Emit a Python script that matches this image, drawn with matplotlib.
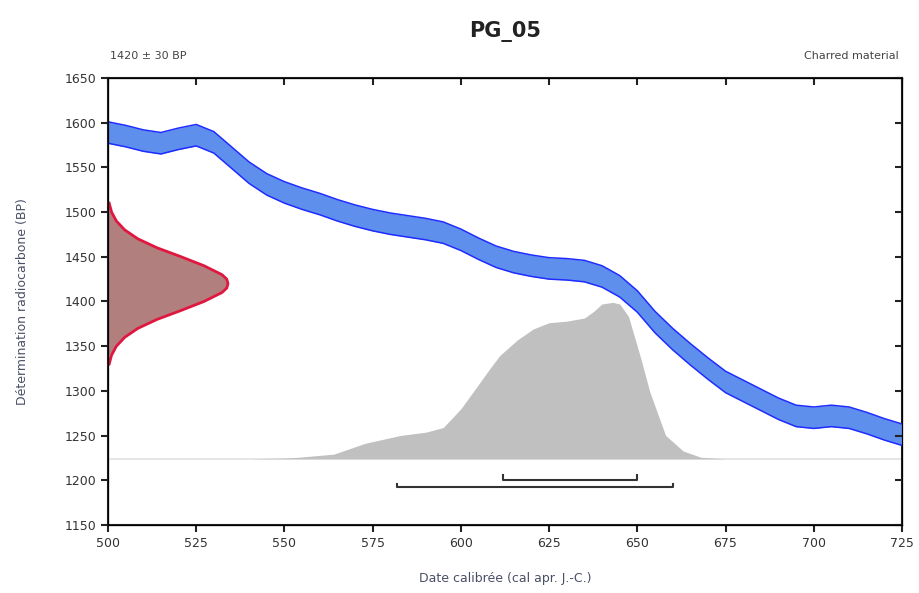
import matplotlib
matplotlib.use('Agg')
import matplotlib.pyplot as plt
import numpy as np

# 校准曲线 (中心值, BP)
curve_years = [500, 505, 510, 515, 520, 525, 530, 535, 540, 545, 550, 555, 560, 565, 570,
               575, 580, 585, 590, 595, 600, 605, 610, 615, 620, 625, 630, 635, 640, 645,
               650, 655, 660, 665, 670, 675, 680, 685, 690, 695, 700, 705, 710, 715, 720, 725]
curve_bp = [1589, 1585, 1580, 1577, 1582, 1586, 1578, 1561, 1544, 1531, 1522, 1515, 1509, 1502, 1496,
            1491, 1487, 1484, 1481, 1477, 1469, 1459, 1450, 1444, 1440, 1437, 1436, 1434, 1428, 1417,
            1400, 1377, 1358, 1341, 1325, 1310, 1300, 1290, 1280, 1272, 1270, 1272, 1270, 1264, 1257, 1251]
curve_err = 12

# 测年结果 1420 ± 30 BP 的分布 (相对高度)
meas_bp = [1330, 1340, 1350, 1360, 1370, 1380, 1390, 1400, 1410, 1415, 1420,
           1425, 1430, 1440, 1450, 1460, 1470, 1480, 1490, 1500, 1510]
meas_dens = [0.01, 0.03, 0.07, 0.14, 0.25, 0.41, 0.61, 0.80, 0.95, 0.99, 1.0,
             0.99, 0.95, 0.80, 0.61, 0.41, 0.25, 0.14, 0.07, 0.03, 0.01]

# 校准后的日期分布 (相对高度)
cal_years = [540, 550, 554, 564, 573, 583, 590, 595, 600, 604.5, 608, 611, 616, 620.5, 625, 630,
             635, 637.5, 640, 643, 645, 647.5, 651, 653.5, 658, 663, 668, 675]
cal_dens = [0.0, 0.005, 0.01, 0.03, 0.10, 0.15, 0.17, 0.20, 0.32, 0.46, 0.57, 0.66, 0.76, 0.83, 0.87, 0.88,
            0.90, 0.94, 0.99, 1.0, 0.99, 0.91, 0.64, 0.43, 0.15, 0.05, 0.01, 0.0]

# 置信区间
range_68 = [612, 650]
range_95 = [582, 660]

cy = np.array(curve_bp)
cal_base = 1224
cal_height = 175
meas_width = 34

fig = plt.figure(figsize=(9.19, 5.93), dpi=100)
ax = fig.add_axes([0.1175, 0.1147, 0.864, 0.7538])

# 校准后分布
ax.axhline(cal_base, color='#e2e2e2', lw=1.2, zorder=1)
ax.fill_between(cal_years, cal_base, cal_base + cal_height * np.array(cal_dens),
                color='#c0c0c0', lw=0, zorder=2)

# 校准曲线带
ax.fill_between(curve_years, cy - curve_err, cy + curve_err, color='#5f8fec', lw=0, zorder=3)
ax.plot(curve_years, cy - curve_err, color='#1f2cff', lw=1.1, zorder=4, solid_joinstyle='round')
ax.plot(curve_years, cy + curve_err, color='#1f2cff', lw=1.1, zorder=4, solid_joinstyle='round')

# 测年结果分布
mx = 500 + meas_width * np.array(meas_dens)
ax.fill_betweenx(meas_bp, 500, mx, color='#b27f7f', lw=0, zorder=5)
ax.plot(mx, meas_bp, color='#e01840', lw=2, zorder=6, clip_on=False, solid_joinstyle='round')

# 区间线
for (a, b), y, h in [(range_68, 1200, 6), (range_95, 1192, 4)]:
    ax.plot([a, a, b, b], [y + h, y, y, y + h], color='#333333', lw=1.5, zorder=6)

ax.set_xlim(500, 725)
ax.set_ylim(1150, 1650)
ax.set_xticks(np.arange(500, 726, 25))
ax.set_yticks(np.arange(1150, 1651, 50))
ax.tick_params(axis='both', labelsize=9, labelcolor='#333333', direction='out',
               length=5, width=1.5, color='#222222')
for spine in ax.spines.values():
    spine.set_linewidth(1.5)
    spine.set_color('#222222')

# 顶部和右侧的刻度朝内
ax2 = ax.twinx()
ax2.set_ylim(1150, 1650)
ax2.set_yticks(np.arange(1150, 1651, 50))
ax2.tick_params(axis='y', direction='in', length=5, width=1.5, color='#222222', labelright=False)
ax3 = ax.twiny()
ax3.set_xlim(500, 725)
ax3.set_xticks(np.arange(500, 726, 25))
ax3.tick_params(axis='x', direction='in', length=5, width=1.5, color='#222222', labeltop=False)

ax.set_xlabel('Date calibrée (cal apr. J.-C.)', fontsize=9, color='#4a4f66', labelpad=16)
ax.set_ylabel('Détermination radiocarbone (BP)', fontsize=9, color='#4a4f66')
ax.yaxis.set_label_coords(-0.1, 0.5)

fig.text(0.5495, 0.947, 'PG_05', ha='center', va='center', fontsize=15, fontweight='bold', color='#222222')
fig.text(0.1195, 0.905, '1420 ± 30 BP', ha='left', va='center', fontsize=8, color='#444444')
fig.text(0.978, 0.905, 'Charred material', ha='right', va='center', fontsize=8, color='#444444')

plt.savefig('out.png', dpi=100)
